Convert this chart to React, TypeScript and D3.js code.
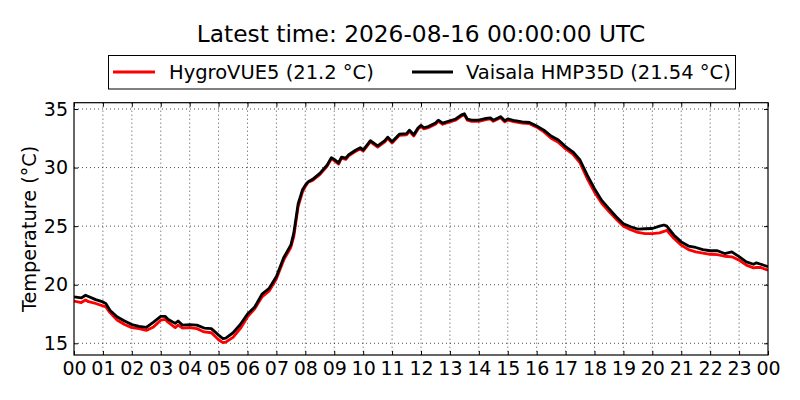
import React, { useEffect, useRef } from 'react';
import * as d3 from 'd3';

// hours since 00:00 UTC
const hours = [
  0, 0.25, 0.4, 0.5, 0.75, 1.0, 1.1, 1.25, 1.5, 1.75, 2.0, 2.25, 2.5, 2.75, 3.0, 3.15, 3.25, 3.5, 3.6, 3.75,
  4.0, 4.25, 4.5, 4.75, 5.0, 5.15, 5.25, 5.5, 5.75, 6.0, 6.25, 6.5, 6.75, 7.0, 7.25, 7.5, 7.6, 7.75, 7.9, 8.0,
  8.1, 8.25, 8.5, 8.75, 8.9, 9.0, 9.15, 9.25, 9.4, 9.5, 9.75, 9.9, 10.0, 10.25, 10.5, 10.75, 10.85, 11.0, 11.25, 11.5,
  11.6, 11.75, 11.9, 12.0, 12.1, 12.25, 12.5, 12.6, 12.75, 13.0, 13.2, 13.4, 13.5, 13.6, 13.75, 14.0, 14.25, 14.4, 14.5, 14.75,
  14.9, 15.0, 15.25, 15.5, 15.75, 16.0, 16.25, 16.5, 16.75, 17.0, 17.25, 17.5, 17.75, 18.0, 18.25, 18.5, 18.75, 19.0, 19.25, 19.5,
  19.75, 20.0, 20.25, 20.4, 20.5, 20.75, 21.0, 21.25, 21.5, 21.75, 22.0, 22.25, 22.5, 22.75, 23.0, 23.25, 23.5, 23.6, 23.75, 24.0,
];

const hygroVUE5 = [
  18.6, 18.48, 18.7, 18.55, 18.4, 18.2, 18.1, 17.6, 16.97, 16.6, 16.34, 16.25, 16.1, 16.4, 16.97, 17.05, 16.8, 16.34, 16.55, 16.3,
  16.34, 16.25, 15.97, 15.9, 15.3, 15.05, 15.1, 15.5, 16.25, 17.25, 17.95, 18.95, 19.47, 20.5, 22.1, 23.2, 24.1, 26.65, 27.9, 28.4,
  28.75, 28.9, 29.4, 30.1, 30.75, 30.6, 30.3, 30.8, 30.7, 31.0, 31.4, 31.6, 31.4, 32.2, 31.75, 32.2, 32.5, 32.1, 32.75, 32.8,
  33.1, 32.7, 33.3, 33.5, 33.3, 33.4, 33.7, 33.95, 33.7, 33.9, 34.05, 34.4, 34.5, 34.05, 33.95, 33.95, 34.1, 34.15, 33.95, 34.25,
  33.9, 34.05, 33.9, 33.8, 33.75, 33.45, 33.05, 32.5, 32.15, 31.6, 31.15, 30.4, 29.05, 27.9, 26.95, 26.25, 25.6, 25.0, 24.7, 24.46,
  24.37, 24.37, 24.43, 24.55, 24.65, 23.95, 23.38, 23.0, 22.8, 22.7, 22.6, 22.57, 22.43, 22.38, 22.1, 21.67, 21.44, 21.47, 21.47, 21.24,
];

const vaisalaHMP35D = [
  18.96, 18.87, 19.1, 19.0, 18.73, 18.53, 18.4, 17.8, 17.25, 16.9, 16.6, 16.45, 16.35, 16.8, 17.3, 17.3, 17.05, 16.7, 16.9, 16.55,
  16.6, 16.55, 16.3, 16.25, 15.7, 15.4, 15.45, 15.9, 16.6, 17.5, 18.1, 19.2, 19.7, 20.7, 22.3, 23.4, 24.4, 26.9, 28.1, 28.5,
  28.8, 29.0, 29.5, 30.2, 30.85, 30.7, 30.4, 30.9, 30.8, 31.1, 31.5, 31.7, 31.5, 32.3, 31.85, 32.3, 32.6, 32.2, 32.85, 32.9,
  33.2, 32.8, 33.4, 33.6, 33.4, 33.5, 33.8, 34.05, 33.8, 34.0, 34.15, 34.5, 34.6, 34.15, 34.05, 34.05, 34.2, 34.25, 34.05, 34.35,
  34.0, 34.15, 34.0, 33.9, 33.85, 33.55, 33.2, 32.7, 32.35, 31.8, 31.35, 30.65, 29.35, 28.2, 27.2, 26.5, 25.8, 25.2, 24.95, 24.75,
  24.78, 24.8, 25.0, 25.1, 25.0, 24.23, 23.66, 23.3, 23.18, 23.0, 22.9, 22.9, 22.66, 22.8, 22.4, 21.95, 21.75, 21.87, 21.75, 21.54,
];

const xTickHours = d3.range(0, 25);
const xTickLabels = xTickHours.map(h => String(h % 24).padStart(2, '0'));
const yTicks = [15, 20, 25, 30, 35];

const titleText = 'Latest time: 2026-08-16 00:00:00 UTC';
const seriesNames = ['HygroVUE5 (21.2 °C)', 'Vaisala HMP35D (21.54 °C)'];
const seriesColors = ['#ff0000', '#000000'];

const FONT = '"DejaVu Sans", sans-serif';

export default function App() {
  const svgRef = useRef<SVGSVGElement | null>(null);

  useEffect(() => {
    if (!svgRef.current) return;
    const svg = d3.select(svgRef.current);
    svg.selectAll('*').remove();

    const width = 800;
    const height = 400;
    const margin = { top: 102.7, right: 32, bottom: 45, left: 74 };
    const innerW = width - margin.left - margin.right;
    const innerH = height - margin.top - margin.bottom;

    svg.attr('width', width).attr('height', height);
    svg.append('rect').attr('width', width).attr('height', height).attr('fill', '#fff');

    const x = d3.scaleLinear().domain([0, 24]).range([0, innerW]);
    const y = d3.scaleLinear().domain([14.0, 35.54]).range([innerH, 0]);

    const g = svg.append('g').attr('transform', `translate(${margin.left},${margin.top})`);

    // dotted grid
    const grid = g.append('g');
    grid.selectAll('.vg')
      .data(xTickHours.slice(1, -1))
      .enter()
      .append('line')
      .attr('x1', d => x(d)).attr('x2', d => x(d))
      .attr('y1', 0).attr('y2', innerH)
      .attr('stroke', '#000').attr('stroke-width', 0.7)
      .attr('stroke-dasharray', '1,3');
    grid.selectAll('.hg')
      .data(yTicks)
      .enter()
      .append('line')
      .attr('x1', 0).attr('x2', innerW)
      .attr('y1', d => y(d)).attr('y2', d => y(d))
      .attr('stroke', '#000').attr('stroke-width', 0.7)
      .attr('stroke-dasharray', '1,3');

    const line = d3.line<number>()
      .x((_, i) => x(hours[i]))
      .y(d => y(d));

    const clip = svg.append('defs').append('clipPath').attr('id', 'plot-clip');
    clip.append('rect').attr('width', innerW).attr('height', innerH);

    const lines = g.append('g').attr('clip-path', 'url(#plot-clip)');
    [hygroVUE5, vaisalaHMP35D].forEach((s, i) => {
      lines.append('path')
        .datum(s)
        .attr('fill', 'none')
        .attr('stroke', seriesColors[i])
        .attr('stroke-width', 2.8)
        .attr('stroke-linejoin', 'round')
        .attr('d', line);
    });

    // inward ticks on all four sides
    const tickLen = 4;
    const xAxisB = d3.axisBottom(x).tickValues(xTickHours).tickSize(-tickLen)
      .tickFormat((_, i) => xTickLabels[i]).tickPadding(7);
    const xAxisT = d3.axisTop(x).tickValues(xTickHours).tickSize(-tickLen).tickFormat(() => '');
    const yAxisL = d3.axisLeft(y).tickValues(yTicks).tickSize(-tickLen).tickPadding(6);
    const yAxisR = d3.axisRight(y).tickValues(yTicks).tickSize(-tickLen).tickFormat(() => '');

    const styleAxis = (sel: d3.Selection<SVGGElement, unknown, null, undefined>) => {
      sel.select('.domain').remove();
      sel.selectAll('.tick line').attr('stroke', '#000').attr('stroke-width', 1);
      sel.selectAll('text')
        .attr('fill', '#000')
        .style('font-family', FONT)
        .style('font-size', '19px');
    };

    g.append('g').attr('transform', `translate(0,${innerH})`).call(xAxisB).call(styleAxis);
    g.append('g').call(xAxisT).call(styleAxis);
    g.append('g').call(yAxisL).call(styleAxis);
    g.append('g').attr('transform', `translate(${innerW},0)`).call(yAxisR).call(styleAxis);

    g.append('rect')
      .attr('width', innerW).attr('height', innerH)
      .attr('fill', 'none').attr('stroke', '#000').attr('stroke-width', 1.2);

    // y label
    svg.append('text')
      .attr('transform', `translate(36,${margin.top + innerH / 2}) rotate(-90)`)
      .attr('text-anchor', 'middle')
      .style('font-family', FONT)
      .style('font-size', '19.3px')
      .text('Temperature (°C)');

    // title
    svg.append('text')
      .attr('x', margin.left + innerW / 2)
      .attr('y', 42.3)
      .attr('text-anchor', 'middle')
      .style('font-family', FONT)
      .style('font-size', '23.3px')
      .text(titleText);

    // legend
    const legend = svg.append('g');
    legend.append('rect')
      .attr('x', 108.5).attr('y', 55.5)
      .attr('width', 627).attr('height', 33.5)
      .attr('fill', '#fff').attr('stroke', '#000').attr('stroke-width', 1);
    const items = [
      { x0: 113, x1: 155, tx: 169 },
      { x0: 412, x1: 453, tx: 466 },
    ];
    items.forEach((it, i) => {
      legend.append('line')
        .attr('x1', it.x0).attr('x2', it.x1)
        .attr('y1', 72).attr('y2', 72)
        .attr('stroke', seriesColors[i]).attr('stroke-width', 2.8);
      legend.append('text')
        .attr('x', it.tx).attr('y', 79)
        .style('font-family', FONT)
        .style('font-size', '19.5px')
        .text(seriesNames[i]);
    });
  }, []);

  return (
    <div style={{ position: 'fixed', left: 0, top: 0, width: 800, height: 400, background: '#fff' }}>
      <svg ref={svgRef} style={{ display: 'block' }} />
    </div>
  );
}
